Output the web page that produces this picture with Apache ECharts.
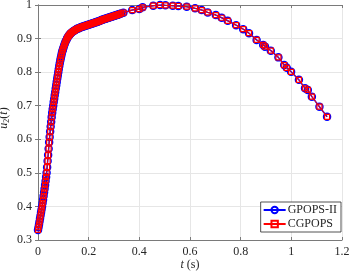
<!DOCTYPE html>
<html>
<head>
<meta charset="utf-8">
<script src="https://cdn.jsdelivr.net/npm/echarts@6/dist/echarts.min.js"></script>
<style>html,body{margin:0;padding:0;background:#fff}#c{width:350px;height:277px}</style>
</head>
<body>
<div id="c"></div>
<script>
// time samples t (s)
const tValues = [
 0.000,0.002,0.004,0.006,0.008,0.010,0.012,0.014,0.016,0.018,
 0.020,0.022,0.024,0.026,0.028,0.030,0.032,0.034,0.036,0.038,
 0.040,0.042,0.044,0.046,0.048,0.050,0.052,0.054,0.056,0.058,
 0.060,0.062,0.064,0.066,0.068,0.070,0.072,0.074,0.076,0.078,
 0.080,0.082,0.084,0.086,0.088,0.090,0.092,0.094,0.096,0.098,
 0.100,0.103,0.106,0.109,0.112,0.115,0.118,0.121,0.124,0.127,
 0.130,0.134,0.138,0.142,0.146,0.150,0.154,0.158,0.162,0.166,
 0.170,0.174,0.178,0.182,0.186,0.190,0.194,0.198,0.202,0.206,
 0.210,0.214,0.218,0.222,0.226,0.230,0.234,0.238,0.242,0.246,
 0.250,0.254,0.258,0.262,0.266,0.270,0.274,0.278,0.282,0.286,
 0.290,0.294,0.298,0.302,0.306,0.310,0.314,0.318,0.322,0.328,
 0.337,0.372,0.400,0.413,0.455,0.482,0.503,0.532,0.554,0.587,
 0.620,0.646,0.670,0.702,0.725,0.749,0.782,0.810,0.833,0.863,
 0.889,0.896,0.919,0.949,0.972,0.982,0.999,1.030,1.054,1.065,
 1.081,1.111,1.141
];
// u2(t) for GPOPS-II
const gpopsU = [
 0.330,0.338,0.346,0.355,0.364,0.373,0.382,0.391,0.400,0.410,
 0.420,0.431,0.442,0.453,0.464,0.476,0.488,0.500,0.517,0.535,
 0.553,0.572,0.591,0.607,0.623,0.638,0.652,0.666,0.679,0.690,
 0.700,0.711,0.721,0.731,0.741,0.751,0.761,0.771,0.781,0.790,
 0.800,0.809,0.818,0.827,0.835,0.842,0.849,0.856,0.862,0.867,
 0.872,0.879,0.885,0.891,0.896,0.901,0.905,0.908,0.911,0.914,
 0.916,0.919,0.921,0.923,0.925,0.927,0.929,0.930,0.931,0.933,
 0.934,0.935,0.936,0.937,0.938,0.939,0.940,0.941,0.942,0.943,
 0.944,0.945,0.946,0.947,0.948,0.949,0.950,0.951,0.952,0.953,
 0.955,0.956,0.957,0.958,0.959,0.960,0.961,0.962,0.963,0.964,
 0.965,0.966,0.967,0.968,0.969,0.970,0.971,0.972,0.973,0.975,
 0.977,0.985,0.988,0.993,0.998,1.000,0.999,0.998,0.997,0.995,
 0.990,0.985,0.978,0.970,0.962,0.953,0.940,0.928,0.916,0.896,
 0.881,0.876,0.864,0.844,0.821,0.813,0.801,0.777,0.752,0.747,
 0.727,0.697,0.667
];
// u2(t) for CGPOPS (overlaps GPOPS-II in the picture)
const cgpopsU = gpopsU.slice();
const xTicks = [0, 0.2, 0.4, 0.6, 0.8, 1, 1.2];
const yTicks = [0.3, 0.4, 0.5, 0.6, 0.7, 0.8, 0.9, 1];

const serif = '"Liberation Serif", "DejaVu Serif", serif';
const pairs = (ys) => tValues.map((t, i) => [t, ys[i]]);
const fmt = (v) => String(Math.round(v * 10) / 10);

const chart = echarts.init(document.getElementById('c'), null, {renderer: 'canvas'});
const axisLine = {show: true, lineStyle: {color: '#7a7a7a', width: 1}};
const tick = {show: true, inside: true, length: 3, lineStyle: {color: '#7a7a7a'}};
chart.setOption({
  animation: false,
  backgroundColor: '#fff',
  grid: {left: 38, right: 8, top: 5, bottom: 37, containLabel: false, outerBoundsMode: 'none'},
  xAxis: [{
    type: 'value', min: xTicks[0], max: xTicks[xTicks.length - 1], interval: 0.2,
    axisLine: axisLine, axisTick: tick,
    axisLabel: {color: '#262626', fontFamily: serif, fontSize: 12, margin: 6, formatter: fmt},
    splitLine: {show: true, lineStyle: {color: '#e6e6e6', width: 1}},
    name: '{i|t} (s)', nameLocation: 'middle', nameGap: 19, nameMoveOverlap: false,
    nameTextStyle: {color: '#262626', fontFamily: serif, fontSize: 12, verticalAlign: 'top',
      rich: {i: {fontStyle: 'italic', fontFamily: serif, fontSize: 12, color: '#262626'}}}
  }, {
    type: 'value', position: 'top', min: 0, max: 1.2, interval: 0.2,
    axisLine: axisLine, axisTick: tick, axisLabel: {show: false}, splitLine: {show: false}
  }],
  yAxis: [{
    type: 'value', min: yTicks[0], max: yTicks[yTicks.length - 1], interval: 0.1,
    axisLine: axisLine, axisTick: tick,
    axisLabel: {color: '#262626', fontFamily: serif, fontSize: 12, margin: 6, formatter: fmt},
    splitLine: {show: true, lineStyle: {color: '#e6e6e6', width: 1}},
    name: '{i|u}{s|2}{n|(}{i|t}{n|)}', nameLocation: 'middle', nameGap: 27, nameRotate: 90,
    nameMoveOverlap: false,
    nameTextStyle: {color: '#262626', fontFamily: serif, fontSize: 12, padding: [0, 0, 0, 9],
      rich: {
        i: {fontStyle: 'italic', fontFamily: serif, fontSize: 12, color: '#262626'},
        s: {fontFamily: serif, fontSize: 8, color: '#262626', padding: [6, 0, 0, 0]},
        n: {fontFamily: serif, fontSize: 12, color: '#262626'}
      }}
  }, {
    type: 'value', position: 'right', min: 0.3, max: 1, interval: 0.1,
    axisLine: axisLine, axisTick: tick, axisLabel: {show: false}, splitLine: {show: false}
  }],
  legend: {
    right: 9, bottom: 45, orient: 'vertical',
    backgroundColor: '#fff', borderColor: '#262626', borderWidth: 0.8,
    padding: [2, 4, 2, 2], itemGap: 2, itemWidth: 22, itemHeight: 8,
    textStyle: {fontFamily: serif, fontSize: 12, color: '#262626', padding: [0, 0, 0, -3]},
    data: ['GPOPS-II', 'CGPOPS']
  },
  series: [{
    name: 'GPOPS-II', type: 'line', data: pairs(gpopsU),
    showSymbol: true, showAllSymbol: true, symbol: 'circle', symbolSize: 7,
    lineStyle: {color: '#0000ff', width: 1.5},
    itemStyle: {color: 'rgba(255,255,255,0)', borderColor: '#0000ff', borderWidth: 1.5},
    z: 2
  }, {
    name: 'CGPOPS', type: 'line', data: pairs(cgpopsU),
    showSymbol: true, showAllSymbol: true, symbol: 'rect', symbolSize: 5,
    lineStyle: {color: '#ff0000', width: 1},
    itemStyle: {color: 'rgba(255,255,255,0)', borderColor: '#ff0000', borderWidth: 1.2},
    z: 3
  }]
});
</script>
</body>
</html>
